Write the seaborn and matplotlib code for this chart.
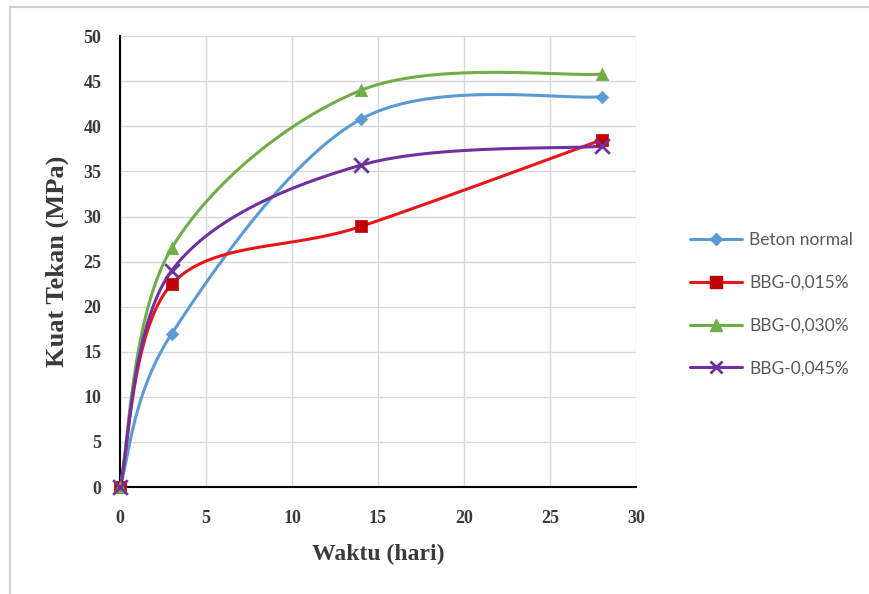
import numpy as np
import pandas as pd
import matplotlib
matplotlib.use("Agg")
import matplotlib.pyplot as plt
import seaborn as sns
from matplotlib.lines import Line2D
from matplotlib.patches import Rectangle

# ---- data ----
days = [0, 3, 14, 28]
series_names = ["Beton normal", "BBG-0,015%", "BBG-0,030%", "BBG-0,045%"]
beton_normal = [0, 17.0, 40.8, 43.3]
bbg_015 = [0, 22.5, 28.9, 38.5]
bbg_030 = [0, 26.5, 44.0, 45.8]
bbg_045 = [0, 24.0, 35.7, 37.8]
x_ticks = [0, 5, 10, 15, 20, 25, 30]
y_ticks = [0, 5, 10, 15, 20, 25, 30, 35, 40, 45, 50]

values = [beton_normal, bbg_015, bbg_030, bbg_045]
colors = ["#5B9BD5", "#E8161B", "#70AD47", "#7030A0"]
marker_colors = ["#5B9BD5", "#C00000", "#70AD47", "#7030A0"]
markers = ["D", "s", "^", "x"]
msizes = [40, 70, 80, 110]


def smooth(xs, ys, n=40):
    """Excel-like smoothed rendering (cubic Bezier, Catmull-Rom control points)."""
    P = np.column_stack([xs, ys]).astype(float)
    out = []
    for i in range(len(P) - 1):
        p0 = P[i - 1] if i > 0 else P[i]
        p1 = P[i]
        p2 = P[i + 1]
        p3 = P[i + 2] if i + 2 < len(P) else P[i + 1]
        c1 = p1 + (p2 - p0) / 6.0
        c2 = p2 - (p3 - p1) / 6.0
        t = np.linspace(0, 1, n)[:, None]
        seg = ((1 - t) ** 3) * p1 + 3 * ((1 - t) ** 2) * t * c1 + 3 * (1 - t) * t ** 2 * c2 + t ** 3 * p2
        if i > 0:
            seg = seg[1:]
        out.append(seg)
    return np.vstack(out)


sns.set_style("white")
fig = plt.figure(figsize=(8.70, 5.94), dpi=100)
ax = fig.add_axes([0.138, 0.180, 0.593, 0.759])

for name, vals, c, mc, m, s in zip(series_names, values, colors, marker_colors, markers, msizes):
    curve = smooth(days, vals)
    df_c = pd.DataFrame({"x": curve[:, 0], "y": curve[:, 1]})
    sns.lineplot(data=df_c, x="x", y="y", sort=False, estimator=None, color=c, lw=2.2, ax=ax, zorder=3)
    df_p = pd.DataFrame({"x": days, "y": vals})
    if m == "x":
        sns.scatterplot(data=df_p, x="x", y="y", marker=m, s=s, color=mc, linewidth=2.0, ax=ax,
                        zorder=5, clip_on=False)
    else:
        sns.scatterplot(data=df_p, x="x", y="y", marker=m, s=s, color=mc, edgecolor=mc, linewidth=0.5,
                        ax=ax, zorder=4, clip_on=False)

ax.set_xlim(0, 30)
ax.set_ylim(0, 50)
ax.set_xticks(x_ticks)
ax.set_yticks(y_ticks)
ax.grid(True, color="#D9D9D9", lw=1.0)
ax.set_axisbelow(True)
for sp in ["top", "right"]:
    ax.spines[sp].set_visible(False)
for sp in ["left", "bottom"]:
    ax.spines[sp].set_color("black")
    ax.spines[sp].set_linewidth(1.5)
    ax.spines[sp].set_zorder(2)
ax.tick_params(axis="both", direction="inout", length=9, width=1.3, color="black",
               labelsize=13, labelcolor="#3A3A3A")
ax.tick_params(axis="x", pad=12)
ax.tick_params(axis="y", pad=9)
for lab in ax.get_xticklabels() + ax.get_yticklabels():
    lab.set_fontfamily("Liberation Serif")
    lab.set_fontweight("bold")
ax.set_xlabel("Waktu (hari)", fontsize=17, fontweight="bold", family="Liberation Serif",
              color="#3A3A3A", labelpad=12)
ax.set_ylabel("Kuat Tekan (MPa)", fontsize=19, fontweight="bold", family="Liberation Serif",
              color="#3A3A3A", labelpad=10)

handles = []
for name, c, mc, m in zip(series_names, colors, marker_colors, markers):
    if m == "x":
        h = Line2D([], [], color=c, lw=2.2, marker=m, markersize=8, markeredgewidth=2, markeredgecolor=mc)
    else:
        h = Line2D([], [], color=c, lw=2.2, marker=m, markersize=8 if m != "D" else 6,
                   markerfacecolor=mc, markeredgecolor=mc)
    handles.append(h)
leg = fig.legend(handles, series_names, loc="center left", bbox_to_anchor=(0.775, 0.488),
                 frameon=False, handlelength=3.0, labelspacing=1.55, handletextpad=0.4,
                 prop={"family": "Lato", "size": 12.5})
for t in leg.get_texts():
    t.set_color("#595959")

fig.patches.append(Rectangle((10 / 870, -0.05), 1.1, 1 - 7 / 594 + 0.05, transform=fig.transFigure,
                             fill=False, edgecolor="#D0D0D0", lw=1.5, zorder=0))

fig.savefig("out.png", dpi=100, facecolor="white")
